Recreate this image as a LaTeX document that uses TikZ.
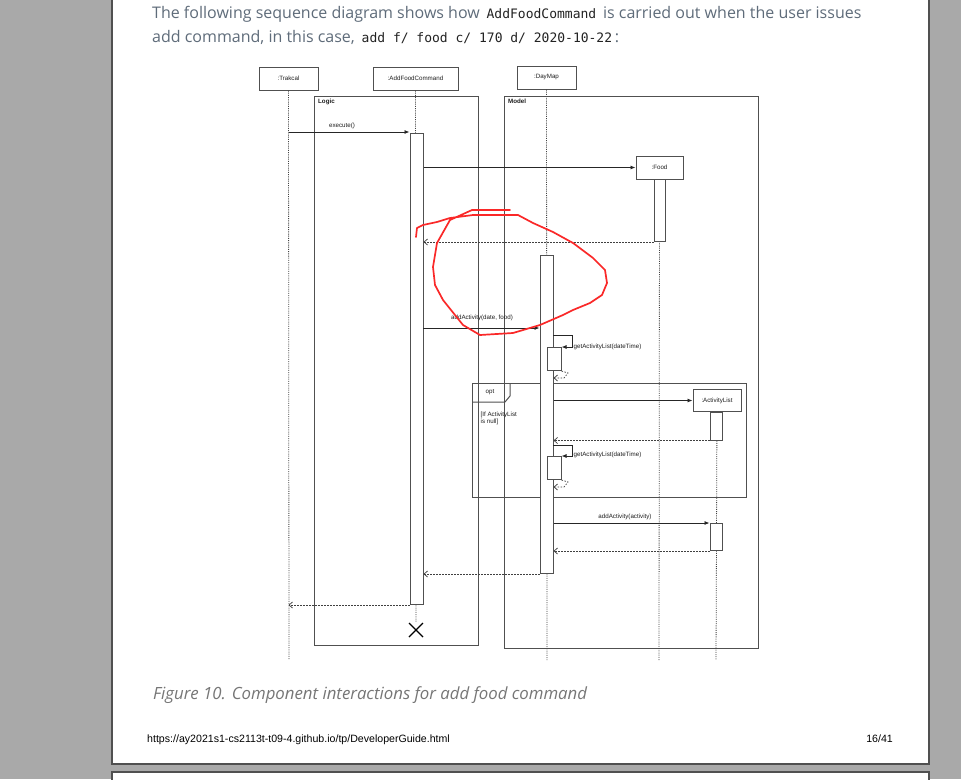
\documentclass[tikz,border=0pt]{standalone}
\usepackage{fontspec}
\setmainfont{Open Sans}
\newfontfamily\arialf{Liberation Sans}
\newfontfamily\monof{DejaVu Sans Mono}
\usetikzlibrary{arrows.meta}
\definecolor{bgray}{RGB}{169,169,169}
\definecolor{pageedge}{RGB}{80,80,80}
\definecolor{headc}{RGB}{95,108,122}
\definecolor{codec}{RGB}{34,34,34}
\definecolor{capc}{RGB}{118,118,118}
\definecolor{linec}{RGB}{80,80,80}
\definecolor{umltext}{RGB}{30,30,30}
\definecolor{redmark}{RGB}{250,40,40}
\newcommand{\codetxt}[1]{{\monof\fontsize{13}{16}\selectfont\color{codec}#1}}
\tikzset{
  umlfont/.style={font=\arialf\fontsize{6.2}{7}\selectfont, text=umltext},
  headbox/.style={draw=linec, line width=1pt, fill=white, inner sep=0pt, umlfont},
  actbar/.style={draw=linec, line width=1pt, fill=white, inner sep=0pt, minimum width=12pt},
  lifeline/.style={draw=black!75, line width=0.8pt, dash pattern=on 1pt off 1.2pt},
  frame/.style={draw=linec, line width=1pt},
  msg/.style={draw=black!85, line width=0.8pt, -{Latex[length=5pt,width=4pt]}},
  ret/.style={draw=black!75, line width=0.7pt, dash pattern=on 1.5pt off 1.5pt, -{Straight Barb[length=3.5pt,width=6pt]}},
  lbl/.style={umlfont, inner sep=0.5pt},
  redpen/.style={draw=redmark, line width=1.7pt, line cap=round, line join=round}
}
\begin{document}
\begin{tikzpicture}[x=1pt,y=-1pt]
\useasboundingbox (0,0) rectangle (961,779);
% page background
\fill[bgray] (0,0) rectangle (961,779);
\fill[white] (112,-5) rectangle (929,764);
\draw[pageedge, line width=1.2pt] (112,-5) -- (112,764) -- (929,764) -- (929,-5);
\fill[white] (112,772) rectangle (929,785);
\draw[pageedge, line width=1.2pt] (112,785) -- (112,772) -- (929,772) -- (929,785);

% heading text
\node[anchor=base west, inner sep=0pt, font=\fontsize{16}{24}\selectfont, text=headc] (h1) at (152,18.5)
  {The following sequence diagram shows how \,\codetxt{AddFoodCommand}\, is carried out when the user issues};
\node[anchor=base west, inner sep=0pt, font=\fontsize{16}{24}\selectfont, text=headc] (h2) at (152,42)
  {add command, in this case, \,\codetxt{add f/ food c/ 170 d/ 2020-10-22}\,:};

% lifelines
\node[headbox, minimum width=59pt, minimum height=23pt] (trak) at (288.5,78.5) {:Trakcal};
\node[headbox, minimum width=85pt, minimum height=23pt] (afc) at (415.5,78.5) {:AddFoodCommand};
\node[headbox, minimum width=59pt, minimum height=23pt] (day) at (546.5,77.5) {:DayMap};

\coordinate (trakend) at (289,660);
\coordinate (afcend) at (416,622);
\coordinate (dayend) at (547,660);
\coordinate (foodend) at (659,660);
\coordinate (alend) at (716,660);
\draw[lifeline] (trak.south) -- (trakend);
\draw[lifeline] (afc.south) -- (afcend);
\draw[lifeline] (day.south) -- (dayend);

% frames
\draw[frame] (314,96) rectangle (478,645);
\node[anchor=north west, inner sep=0pt, font=\arialf\bfseries\fontsize{6.2}{7}\selectfont, text=umltext] (logic) at (318,98.5) {Logic};
\draw[frame] (504,96) rectangle (758,648);
\node[anchor=north west, inner sep=0pt, font=\arialf\bfseries\fontsize{6.2}{7}\selectfont, text=umltext] (model) at (508,98.5) {Model};

% Food participant
\node[headbox, minimum width=47pt, minimum height=23pt] (food) at (659.5,167.5) {:Food};
\draw[lifeline] (food.south) -- (foodend);
\node[actbar, minimum width=11pt, minimum height=62pt, anchor=north] (foodact) at (659.5,179) {};

% ActivityList participant
\node[headbox, minimum width=48pt, minimum height=22pt] (al) at (717,400.5) {:ActivityList};
\draw[lifeline] (al.south) -- (alend);
\node[actbar, minimum height=28pt, anchor=north] (alact1) at (716,411.5) {};
\node[actbar, minimum height=27pt, anchor=north] (alact2) at (716,523) {};

% opt frame
\draw[frame] (472,383) rectangle (746,497);
\draw[frame] (472,402) -- (505,402) -- (510,396) -- (510,383);
\node[lbl] (optl) at (490,392) {opt};
\node[anchor=north west, lbl, align=left, font=\arialf\fontsize{6.2}{7}\selectfont] (guard) at (480,411.5) {[If ActivityList\\is null]};

% activations
\node[actbar, minimum width=13pt, minimum height=471pt, anchor=north] (afcact) at (416.5,133) {};
\node[actbar, minimum width=13pt, minimum height=318pt, anchor=north] (dayact) at (546.5,255) {};
\node[actbar, minimum width=14pt, minimum height=23pt, anchor=north] (self1) at (554,347) {};
\node[actbar, minimum width=14pt, minimum height=23pt, anchor=north] (self2) at (554,456) {};

% destruction mark
\draw[black, line width=1.2pt] (409,623) -- (423,637) (409,637) -- (423,623);

% messages
\coordinate (m1s) at (289,132);
\draw[msg] (m1s) -- (afcact.north west |- m1s);
\node[lbl] (m1l) at (342,126) {execute()};

\draw[msg] (afcact.east |- food.west) -- (food.west);

\draw[ret] (foodact.south west) -- (afcact.east |- foodact.south west);

\coordinate (m3s) at (423,328);
\draw[msg] (m3s) -- (dayact.west |- m3s);
\node[lbl] (m3l) at (482,318) {addActivity(date, food)};

% self call 1
\coordinate (s1a) at (553,335);
\coordinate (s1b) at (572,335);
\coordinate (s1c) at (572,347);
\draw[msg] (s1a) -- (s1b) -- (s1c) -- (self1.north east |- s1c);
\node[lbl, anchor=west] (s1l) at (573,347) {getActivityList(dateTime)};
\coordinate (r1a) at (568,373);
\coordinate (r1b) at (564,378);
\draw[ret] (self1.south east) -- (r1a) -- (r1b) -- (dayact.east |- r1b);

% create ActivityList
\draw[msg] (dayact.east |- al.west) -- (al.west);
\draw[ret] (alact1.south west) -- (dayact.east |- alact1.south west);

% self call 2
\coordinate (s2a) at (553,445);
\coordinate (s2b) at (572,445);
\coordinate (s2c) at (572,456);
\draw[msg] (s2a) -- (s2b) -- (s2c) -- (self2.north east |- s2c);
\node[lbl, anchor=west] (s2l) at (573,455) {getActivityList(dateTime)};
\coordinate (r2a) at (568,482);
\coordinate (r2b) at (564,487);
\draw[ret] (self2.south east) -- (r2a) -- (r2b) -- (dayact.east |- r2b);

% addActivity(activity)
\draw[msg] (dayact.east |- alact2.north west) -- (alact2.north west);
\node[lbl] (m5l) at (625,517) {addActivity(activity)};
\draw[ret] (alact2.south west) -- (dayact.east |- alact2.south west);

% returns
\draw[ret] (dayact.south west) -- (afcact.east |- dayact.south west);
\draw[ret] (afcact.south west) -- (trak.south |- afcact.south west);

% red hand-drawn loop
\draw[redpen] (416,237) -- (417,228) -- (423,225) -- (437,222) -- (450,218) -- (473,215) -- (518,215)
  -- (533,223) -- (553,232) -- (573,243) -- (593,258) -- (605,270) -- (607,283) -- (602,295)
  -- (590,303) -- (573,310) -- (563,315) -- (540,325) -- (513,333) -- (480,335) -- (463,325)
  -- (443,300) -- (435,285) -- (433,267) -- (437,243) -- (450,220) -- (472,210) -- (510,210);

% caption and footer
\node[anchor=base west, inner sep=0pt, font=\itshape\fontsize{16.8}{20}\selectfont, text=capc] (cap) at (153,699)
  {Figure 10. Component interactions for add food command};
\node[anchor=base west, inner sep=0pt, font=\arialf\fontsize{10.6}{12}\selectfont, text=black] (url) at (147,742.5)
  {https://ay2021s1-cs2113t-t09-4.github.io/tp/DeveloperGuide.html};
\node[anchor=base east, inner sep=0pt, font=\arialf\fontsize{10.6}{12}\selectfont, text=black] (pg) at (893,742.5) {16/41};
\end{tikzpicture}
\end{document}
